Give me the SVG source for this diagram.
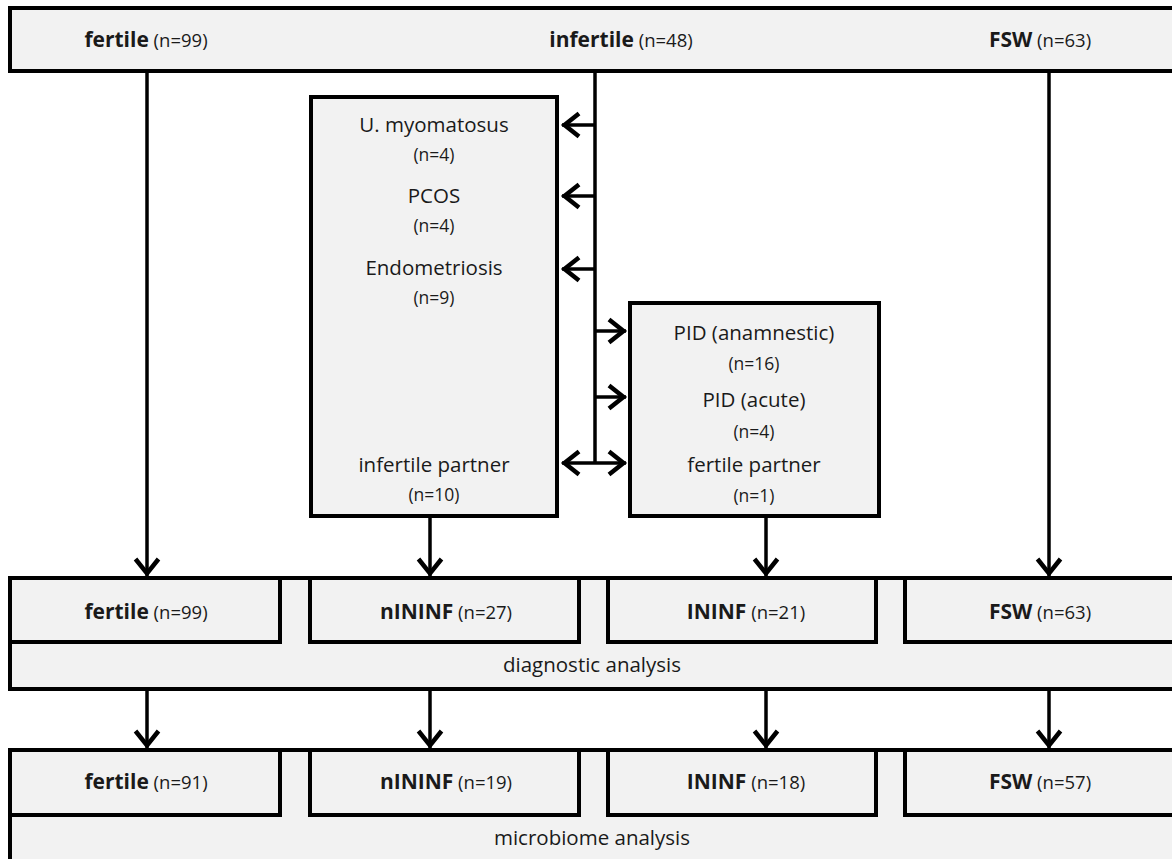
<svg xmlns="http://www.w3.org/2000/svg" width="1172" height="859" viewBox="0 0 1172 859">
<defs>
<style>
.box{fill:#f2f2f2;stroke:#000;stroke-width:4}
.ln{fill:none;stroke:#000;stroke-width:3.5}
.arr{marker-end:url(#ah)}
.dbl{marker-start:url(#ah);marker-end:url(#ah)}
text{font-family:"Open Sans","Liberation Sans",sans-serif;fill:#1a1a1a;text-anchor:middle}
.t{font-size:20.5px}
.s{font-size:17.5px}
.ss{font-size:18.5px}
.b{font-weight:bold;font-size:21px}
</style>
<marker id="ah" markerUnits="userSpaceOnUse" markerWidth="40" markerHeight="40" viewBox="-24 -20 40 40" refX="0" refY="0" orient="auto-start-reverse">
<path d="M-17,-11.5 L-2.5,0 L-17,11.5" fill="none" stroke="#000" stroke-width="4.5"/>
</marker>
</defs>

<g id="top">
<rect class="box" x="10" y="8" width="1170" height="63"/>
<text x="146" y="47"><tspan class="b">fertile</tspan><tspan class="ss"> (n=99)</tspan></text>
<text x="621" y="47"><tspan class="b">infertile</tspan><tspan class="ss"> (n=48)</tspan></text>
<text x="1040" y="47"><tspan class="b">FSW</tspan><tspan class="ss"> (n=63)</tspan></text>
</g>

<g id="nininf-sub">
<rect class="box" x="311" y="97" width="246" height="419"/>
<text class="t" x="434" y="132">U. myomatosus</text>
<text class="s" x="434" y="161">(n=4)</text>
<text class="t" x="434" y="203">PCOS</text>
<text class="s" x="434" y="232">(n=4)</text>
<text class="t" x="434" y="275">Endometriosis</text>
<text class="s" x="434" y="304">(n=9)</text>
<text class="t" x="434" y="472">infertile partner</text>
<text class="s" x="434" y="501">(n=10)</text>
</g>

<g id="ininf-sub">
<rect class="box" x="630" y="303" width="249" height="213"/>
<text class="t" x="754" y="340">PID (anamnestic)</text>
<text class="s" x="754" y="370">(n=16)</text>
<text class="t" x="754" y="407">PID (acute)</text>
<text class="s" x="754" y="438">(n=4)</text>
<text class="t" x="754" y="472">fertile partner</text>
<text class="s" x="754" y="502">(n=1)</text>
</g>

<g id="diagnostic">
<rect class="box" x="10" y="578" width="1170" height="111"/>
<rect class="box" x="10" y="578" width="270" height="64"/>
<rect class="box" x="310" y="578" width="269" height="64"/>
<rect class="box" x="608" y="578" width="268" height="64"/>
<rect class="box" x="905" y="578" width="275" height="64"/>
<text x="146" y="619"><tspan class="b">fertile</tspan><tspan class="ss"> (n=99)</tspan></text>
<text x="446" y="619"><tspan class="b">nININF</tspan><tspan class="ss"> (n=27)</tspan></text>
<text x="746" y="619"><tspan class="b">ININF</tspan><tspan class="ss"> (n=21)</tspan></text>
<text x="1040" y="619"><tspan class="b">FSW</tspan><tspan class="ss"> (n=63)</tspan></text>
<text class="t" x="592" y="672">diagnostic analysis</text>
</g>

<g id="microbiome">
<rect class="box" x="10" y="750" width="1170" height="120"/>
<rect class="box" x="10" y="750" width="270" height="65"/>
<rect class="box" x="310" y="750" width="269" height="65"/>
<rect class="box" x="608" y="750" width="268" height="65"/>
<rect class="box" x="905" y="750" width="275" height="65"/>
<text x="146" y="789"><tspan class="b">fertile</tspan><tspan class="ss"> (n=91)</tspan></text>
<text x="446" y="789"><tspan class="b">nININF</tspan><tspan class="ss"> (n=19)</tspan></text>
<text x="746" y="789"><tspan class="b">ININF</tspan><tspan class="ss"> (n=18)</tspan></text>
<text x="1040" y="789"><tspan class="b">FSW</tspan><tspan class="ss"> (n=57)</tspan></text>
<text class="t" x="592" y="845">microbiome analysis</text>
</g>

<g id="connectors">
<line class="ln arr" x1="147" y1="71" x2="147" y2="576"/>
<line class="ln arr" x1="1049" y1="71" x2="1049" y2="576"/>
<line class="ln" x1="595" y1="71" x2="595" y2="463"/>
<line class="ln arr" x1="595" y1="125" x2="562" y2="125"/>
<line class="ln arr" x1="595" y1="196" x2="562" y2="196"/>
<line class="ln arr" x1="595" y1="269" x2="562" y2="269"/>
<line class="ln arr" x1="595" y1="331" x2="626" y2="331"/>
<line class="ln arr" x1="595" y1="397" x2="626" y2="397"/>
<line class="ln dbl" x1="562" y1="463" x2="626" y2="463"/>
<line class="ln arr" x1="430" y1="516" x2="430" y2="576"/>
<line class="ln arr" x1="766" y1="516" x2="766" y2="576"/>
<line class="ln arr" x1="147" y1="689" x2="147" y2="748"/>
<line class="ln arr" x1="430" y1="689" x2="430" y2="748"/>
<line class="ln arr" x1="766" y1="689" x2="766" y2="748"/>
<line class="ln arr" x1="1049" y1="689" x2="1049" y2="748"/>
</g>
</svg>
